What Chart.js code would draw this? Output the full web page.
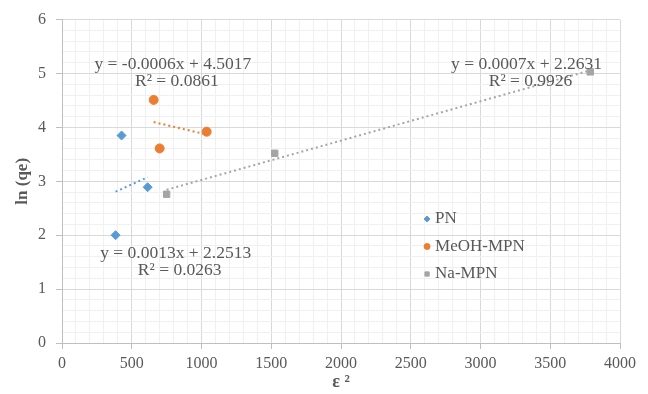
<!DOCTYPE html>
<html>
<head>
<meta charset="utf-8">
<script src="https://cdn.jsdelivr.net/npm/chart.js@4/dist/chart.umd.min.js"></script>
<style>
  html, body { margin: 0; padding: 0; background: #fff; }
  #wrap { width: 648px; height: 394px; }
</style>
</head>
<body>
<div id="wrap"><canvas id="plot" width="648" height="394"></canvas></div>
<script>
// values
const pnX = [427, 614, 384];
const pnY = [3.85, 2.89, 2.0];
const meohX = [657, 700, 1037];
const meohY = [4.51, 3.61, 3.92];
const naX = [750, 1525, 3787];
const naY = [2.76, 3.52, 5.03];

const seriesNames = ['PN', 'MeOH-MPN', 'Na-MPN'];
const seriesColors = ['#5B9BD5', '#ED7D31', '#A5A5A5'];
const seriesMarkers = ['rectRot', 'circle', 'rect'];

// trendline labels: [line1, line2, anchor x, anchor y]
const eqText = [
    ['y = 0.0013x + 2.2513', 'R² = 0.0263', 815, 1.66],
    ['y = -0.0006x + 4.5017', 'R² = 0.0861', 795, 5.17],
    ['y = 0.0007x + 2.2631', 'R² = 0.9926', 3330, 5.17]
];

const textGray = '#595959';
const serif = '"Liberation Serif", "Times New Roman", serif';

function pts(xs, ys) {
    return xs.map((x, i) => ({ x: x, y: ys[i] }));
}

// least squares line over the range of the series
function trend(xs, ys) {
    const n = xs.length;
    const mx = xs.reduce((a, b) => a + b, 0) / n;
    const my = ys.reduce((a, b) => a + b, 0) / n;
    let sxy = 0, sxx = 0;
    for (let i = 0; i < n; i++) {
        sxy += (xs[i] - mx) * (ys[i] - my);
        sxx += (xs[i] - mx) * (xs[i] - mx);
    }
    const m = sxy / sxx, b = my - m * mx;
    const x0 = Math.min(...xs), x1 = Math.max(...xs);
    return [{ x: x0, y: b + m * x0 }, { x: x1, y: b + m * x1 }];
}

const allX = [pnX, meohX, naX];
const allY = [pnY, meohY, naY];

const datasets = [];
for (let i = 0; i < 3; i++) {
    datasets.push({
        label: seriesNames[i] + ' trend',
        type: 'line',
        data: trend(allX[i], allY[i]),
        borderColor: seriesColors[i],
        borderWidth: 2,
        borderDash: [2, 3],
        pointRadius: 0,
        fill: false
    });
}
for (let i = 0; i < 3; i++) {
    datasets.push({
        label: seriesNames[i],
        data: pts(allX[i], allY[i]),
        backgroundColor: seriesColors[i],
        borderColor: seriesColors[i],
        pointStyle: seriesMarkers[i],
        pointRadius: 4.5,
        pointHoverRadius: 4.5
    });
}

function isMajor(v, step) {
    return Math.abs(v / step - Math.round(v / step)) < 1e-6;
}

const labelsPlugin = {
    id: 'labelsPlugin',
    afterDatasetsDraw(chart) {
        const ctx = chart.ctx;
        const sx = chart.scales.x, sy = chart.scales.y;
        ctx.save();
        ctx.fillStyle = textGray;
        ctx.font = '17.5px ' + serif;
        ctx.textAlign = 'center';
        ctx.textBaseline = 'middle';
        eqText.forEach(e => {
            const px = sx.getPixelForValue(e[2]);
            const py = sy.getPixelForValue(e[3]);
            ctx.fillText(e[0], px, py);
            ctx.fillText(e[1], px + 4, py + 17);
        });

        // legend inside the plot
        ctx.font = '17px ' + serif;
        ctx.textAlign = 'left';
        const lx = sx.getPixelForValue(2617);
        const rows = [2.30, 1.79, 1.28];
        for (let i = 0; i < 3; i++) {
            const ly = sy.getPixelForValue(rows[i]);
            ctx.fillStyle = seriesColors[i];
            ctx.strokeStyle = seriesColors[i];
            Chart.helpers.drawPoint(ctx, {
                pointStyle: seriesMarkers[i], radius: 3, borderWidth: 1
            }, lx, ly);
            ctx.fillStyle = textGray;
            ctx.fillText(seriesNames[i], lx + 8, ly);
        }
        ctx.restore();
    }
};

new Chart(document.getElementById('plot').getContext('2d'), {
    type: 'scatter',
    data: { datasets: datasets },
    options: {
        responsive: false,
        animation: false,
        layout: { padding: { top: 17, right: 28, left: 0, bottom: 0 } },
        plugins: {
            legend: { display: false },
            tooltip: { enabled: false }
        },
        scales: {
            x: {
                type: 'linear',
                min: 0,
                max: 4000,
                afterFit(s) { s.height = 51; },
                border: { color: '#bfbfbf', width: 1 },
                grid: {
                    color: c => isMajor(c.tick.value, 500) ? '#d9d9d9' : '#f0f0f0',
                    tickColor: c => isMajor(c.tick.value, 500) ? '#bfbfbf' : 'rgba(0,0,0,0)',
                    tickLength: 6
                },
                ticks: {
                    stepSize: 100,
                    autoSkip: false,
                    maxRotation: 0,
                    padding: 5,
                    color: textGray,
                    font: { family: serif, size: 16 },
                    callback: v => isMajor(v, 500) ? String(Math.round(v)) : ''
                },
                title: {
                    display: true,
                    text: 'ε ²',
                    color: textGray,
                    font: { family: serif, size: 18, weight: 'bold' },
                    padding: { top: 0, bottom: 1 }
                }
            },
            y: {
                min: 0,
                max: 6,
                afterFit(s) { s.width = 62; },
                border: { color: '#bfbfbf', width: 1 },
                grid: {
                    color: c => isMajor(c.tick.value, 1) ? '#d9d9d9' : '#f0f0f0',
                    tickColor: c => isMajor(c.tick.value, 1) ? '#bfbfbf' : 'rgba(0,0,0,0)',
                    tickLength: 6
                },
                ticks: {
                    stepSize: 0.2,
                    autoSkip: false,
                    padding: 10,
                    color: textGray,
                    font: { family: serif, size: 16 },
                    callback: v => isMajor(v, 1) ? String(Math.round(v)) : ''
                },
                title: {
                    display: true,
                    text: 'ln (qe)',
                    color: textGray,
                    font: { family: serif, size: 17, weight: 'bold' },
                    padding: { top: 12, bottom: 0 }
                }
            }
        }
    },
    plugins: [labelsPlugin]
});
</script>
</body>
</html>
